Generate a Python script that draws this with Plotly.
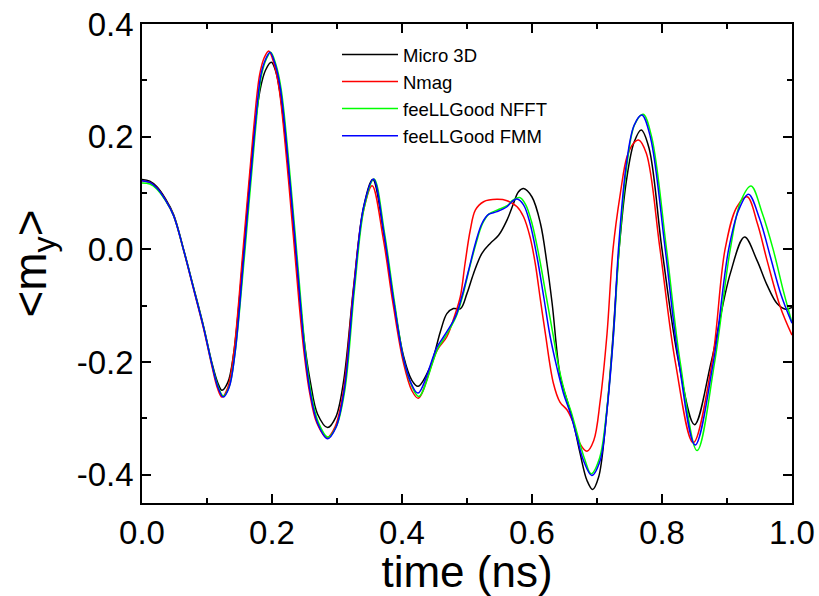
import plotly.graph_objects as go

# ---------------- data ----------------
t_micro = [0.000, 0.012, 0.023, 0.036, 0.0486, 0.064, 0.079, 0.0948, 0.1077, 0.117, 0.123, 0.132,
           0.141, 0.156, 0.172, 0.182, 0.190,
           0.199, 0.206, 0.213, 0.228, 0.2435, 0.251, 0.259, 0.270, 0.2856, 0.298, 0.310, 0.3256,
           0.341, 0.355, 0.372, 0.387,
           0.4025, 0.415, 0.4246, 0.4435, 0.459, 0.469, 0.479, 0.490, 0.500, 0.510, 0.523, 0.536,
           0.5486, 0.5615, 0.5717, 0.579, 0.587, 0.600, 0.613, 0.623, 0.631, 0.6436, 0.654, 0.664,
           0.674, 0.6846, 0.6933, 0.7025, 0.7128, 0.723, 0.734, 0.745, 0.757, 0.768, 0.780, 0.800,
           0.8256, 0.850, 0.8756, 0.905, 0.927, 0.946, 0.9615, 0.977, 0.990, 1.000]
m_micro = [0.124, 0.121, 0.111, 0.090, 0.062, 0.000, -0.066, -0.137, -0.202, -0.238, -0.250, -0.236,
           -0.185, -0.007, 0.200, 0.285, 0.318,
           0.332, 0.315, 0.272, 0.111, -0.096, -0.175, -0.235, -0.292, -0.316, -0.298, -0.235, -0.066,
           0.076, 0.124, 0.028, -0.090,
           -0.190, -0.232, -0.243, -0.208, -0.146, -0.114, -0.105, -0.105, -0.078, -0.043, -0.007, 0.011,
           0.025, 0.052, 0.082, 0.102, 0.108, 0.093, 0.046, -0.025, -0.096, -0.226, -0.268, -0.309,
           -0.362, -0.410, -0.426, -0.404, -0.315, -0.179, 0.000, 0.120, 0.190, 0.212, 0.180, 0.000,
           -0.200, -0.311, -0.200, -0.043, 0.022, -0.019, -0.063, -0.096, -0.106, -0.103]

t_nmag = [0.000, 0.012, 0.023, 0.036, 0.0486, 0.064, 0.079, 0.0948, 0.1077, 0.116, 0.123, 0.132,
          0.141, 0.155, 0.171, 0.181, 0.188,
          0.195, 0.203, 0.211, 0.226, 0.242, 0.250, 0.258, 0.269, 0.2845, 0.297, 0.310, 0.325,
          0.340, 0.354, 0.371, 0.386,
          0.402, 0.415, 0.425, 0.454, 0.469, 0.482, 0.4897, 0.497, 0.505, 0.513, 0.5255, 0.546,
          0.5615, 0.577, 0.587, 0.597, 0.605, 0.613, 0.6205, 0.633, 0.643, 0.654, 0.664, 0.674,
          0.6846, 0.695, 0.705, 0.7154, 0.7246, 0.736, 0.746, 0.756, 0.764, 0.776, 0.797, 0.8205,
          0.848, 0.877, 0.897, 0.915, 0.931, 0.947, 0.9615, 0.982, 1.000]
m_nmag = [0.122, 0.119, 0.109, 0.088, 0.060, -0.002, -0.069, -0.141, -0.208, -0.246, -0.262, -0.245,
          -0.185, -0.007, 0.205, 0.310, 0.340,
          0.352, 0.330, 0.285, 0.115, -0.100, -0.190, -0.255, -0.308, -0.334, -0.315, -0.250, -0.075,
          0.065, 0.113, 0.020, -0.095,
          -0.200, -0.250, -0.264, -0.179, -0.155, -0.114, -0.084, -0.025, 0.034, 0.070, 0.0846, 0.0888,
          0.0864, 0.0757, 0.058, 0.022, -0.025, -0.090, -0.149, -0.238, -0.271, -0.285, -0.309, -0.345,
          -0.358, -0.339, -0.268, -0.150, 0.000, 0.100, 0.164, 0.188, 0.194, 0.170, 0.000, -0.200,
          -0.343, -0.200, 0.000, 0.075, 0.0935, 0.045, -0.019, -0.102, -0.152]

t_nfft = [0.000, 0.012, 0.023, 0.036, 0.0486, 0.064, 0.079, 0.0948, 0.1077, 0.117, 0.125, 0.134,
          0.143, 0.158, 0.174, 0.184, 0.191,
          0.198, 0.206, 0.214, 0.229, 0.245, 0.252, 0.260, 0.271, 0.286, 0.299, 0.312, 0.327,
          0.342, 0.357, 0.373, 0.388,
          0.403, 0.416, 0.426, 0.455, 0.465, 0.483, 0.493, 0.503, 0.514, 0.524, 0.534, 0.547,
          0.5625, 0.570, 0.581, 0.590, 0.600, 0.611, 0.622, 0.633, 0.641, 0.651, 0.661, 0.671,
          0.681, 0.691, 0.704, 0.715, 0.7255, 0.734, 0.746, 0.758, 0.771, 0.784, 0.807, 0.828,
          0.854, 0.881, 0.905, 0.921, 0.937, 0.954, 0.971, 0.987, 1.000]
m_nfft = [0.118, 0.116, 0.107, 0.087, 0.060, -0.001, -0.067, -0.138, -0.204, -0.243, -0.260, -0.244,
          -0.185, -0.007, 0.205, 0.310, 0.337,
          0.350, 0.328, 0.285, 0.115, -0.100, -0.188, -0.254, -0.306, -0.333, -0.314, -0.250, -0.070,
          0.075, 0.125, 0.030, -0.090,
          -0.197, -0.245, -0.261, -0.176, -0.158, -0.120, -0.084, -0.037, 0.011, 0.046, 0.063, 0.070,
          0.078, 0.087, 0.092, 0.080, 0.046, -0.013, -0.084, -0.155, -0.208, -0.256, -0.291, -0.333,
          -0.372, -0.398, -0.370, -0.285, -0.149, 0.000, 0.150, 0.222, 0.240, 0.200, 0.000, -0.200,
          -0.357, -0.200, 0.000, 0.085, 0.1125, 0.065, 0.000, -0.075, -0.130]

t_fmm = [0.000, 0.012, 0.023, 0.036, 0.0486, 0.064, 0.079, 0.0948, 0.1077, 0.117, 0.125, 0.134,
         0.143, 0.157, 0.173, 0.183, 0.190,
         0.197, 0.205, 0.213, 0.228, 0.244, 0.251, 0.259, 0.270, 0.2855, 0.298, 0.311, 0.326,
         0.341, 0.356, 0.372, 0.387,
         0.4025, 0.415, 0.4246, 0.454, 0.464, 0.482, 0.492, 0.5025, 0.513, 0.523, 0.533, 0.546,
         0.5615, 0.569, 0.577, 0.587, 0.597, 0.6077, 0.618, 0.628, 0.638, 0.6486, 0.659, 0.669,
         0.679, 0.692, 0.705, 0.7154, 0.7255, 0.733, 0.745, 0.757, 0.769, 0.782, 0.805, 0.826,
         0.851, 0.879, 0.9025, 0.918, 0.933, 0.950, 0.9667, 0.983, 1.000]
m_fmm = [0.122, 0.119, 0.109, 0.088, 0.060, -0.001, -0.068, -0.139, -0.205, -0.245, -0.262, -0.245,
         -0.185, -0.007, 0.205, 0.310, 0.337,
         0.350, 0.328, 0.285, 0.115, -0.100, -0.188, -0.255, -0.308, -0.336, -0.317, -0.250, -0.070,
         0.075, 0.125, 0.030, -0.090,
         -0.195, -0.240, -0.255, -0.173, -0.155, -0.120, -0.084, -0.037, 0.011, 0.046, 0.062, 0.067,
         0.0757, 0.0846, 0.0893, 0.079, 0.046, -0.013, -0.084, -0.155, -0.208, -0.256, -0.291, -0.333,
         -0.374, -0.401, -0.374, -0.285, -0.149, 0.000, 0.150, 0.220, 0.2385, 0.200, 0.000, -0.200,
         -0.347, -0.200, 0.000, 0.070, 0.098, 0.055, -0.013, -0.080, -0.131]

series = [
    ("Micro 3D", t_micro, m_micro, "#000000"),
    ("Nmag", t_nmag, m_nmag, "#ff0000"),
    ("feeLLGood NFFT", t_nfft, m_nfft, "#00ff00"),
    ("feeLLGood FMM", t_fmm, m_fmm, "#0000ff"),
]

x_ticks = [0.0, 0.2, 0.4, 0.6, 0.8, 1.0]
y_ticks = [-0.4, -0.2, 0.0, 0.2, 0.4]

FONT = "Liberation Sans, Arial, sans-serif"

fig = go.Figure()
for name, t, m, c in series:
    fig.add_trace(go.Scatter(x=t, y=m, name=name, mode="lines",
                             line=dict(color=c, width=1.5, shape="spline", smoothing=1.0)))

axis_common = dict(
    showline=True, linecolor="black", linewidth=1.5, mirror="ticks",
    ticks="inside", ticklen=9, tickwidth=1.5, tickcolor="black",
    showgrid=False, zeroline=False, automargin=False,
    tickfont=dict(family=FONT, size=33, color="black"),
    minor=dict(ticks="inside", ticklen=5, tickwidth=1.5, tickcolor="black", showgrid=False),
)

fig.update_xaxes(range=[0, 1.0], tickvals=x_ticks, ticktext=[f"{v:.1f}" for v in x_ticks],
                 minor_dtick=0.1,
                 title=dict(text="time (ns)", font=dict(family=FONT, size=44, color="black"),
                            standoff=5),
                 **axis_common)
fig.update_yaxes(range=[-0.45, 0.4], tickvals=y_ticks, ticktext=[f"{v:.1f}" for v in y_ticks],
                 minor_dtick=0.1, minor_tick0=0.0,
                 title=dict(text="&lt;m<sub>y</sub>&gt;", font=dict(family=FONT, size=46, color="black"),
                            standoff=16),
                 **axis_common)

fig.update_layout(
    width=819, height=596,
    margin=dict(l=142, r=27, t=24, b=93),
    paper_bgcolor="white", plot_bgcolor="white",
    font=dict(family=FONT, color="black"),
    showlegend=True,
    legend=dict(x=0.3, y=0.975, xanchor="left", yanchor="top",
                bgcolor="rgba(0,0,0,0)", borderwidth=0,
                font=dict(family=FONT, size=18.5, color="black"),
                itemwidth=56, tracegroupgap=0),
)

fig.write_html("out.html", config={"displayModeBar": False},
               post_script="document.body.style.margin='0';document.body.style.padding='0';")
